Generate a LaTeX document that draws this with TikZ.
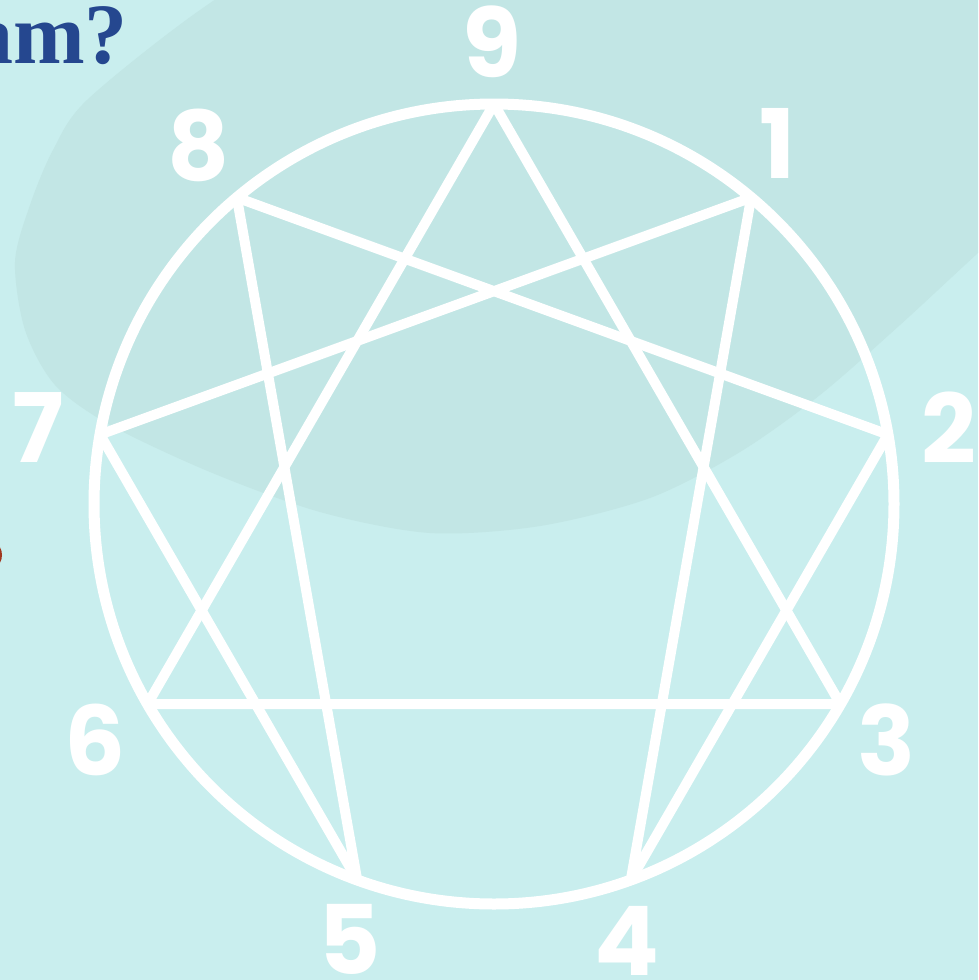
\documentclass[tikz,border=0pt]{standalone}
\usepackage{fontspec}
\newfontfamily\numfont{Poppins}
\newfontfamily\headfont{Liberation Serif}
\definecolor{bgcyan}{HTML}{C9EEEE}
\definecolor{blobcyan}{HTML}{C2E6E5}
\definecolor{titleblue}{HTML}{25478F}
\definecolor{cutred}{HTML}{A0371F}

\begin{document}
\begin{tikzpicture}[
    x=1pt, y=-1pt,
    ring/.style={draw=white, line width=11pt},
    edge/.style={draw=white, line width=10pt, line join=miter},
    num/.style={
        text=white,
        inner sep=0pt,
        font=\numfont\bfseries\fontsize{96}{96}\selectfont
    },
    head/.style={
        text=titleblue,
        inner sep=0pt,
        font=\headfont\bfseries\fontsize{86}{86}\selectfont
    }
]

\useasboundingbox (0,0) rectangle (978,980);
\clip (0,0) rectangle (978,980);

% background and the soft blob behind the figure
\fill[bgcyan] (0,0) rectangle (978,980);
\fill[blobcyan] plot[smooth cycle, tension=0.5] coordinates {
    (15,262) (30,205) (53,150) (87,100) (200,10) (330,-70) (520,-140)
    (730,-160) (930,-120) (1080,-40) (1140,60) (1070,170) (978,253)
    (900,325) (820,395) (740,452) (650,498) (540,526) (430,533)
    (320,512) (210,472) (110,425) (55,385) (25,330)};

% cut-off heading and marker on the left edge
\node[head, anchor=base east] (title) at (128,63) {am?};
\fill[cutred] (-5,555) ellipse [x radius=7pt, y radius=11pt];

% ring and its nine points
\coordinate (c) at (494,504);
\coordinate (v9) at ([shift={(-90:400)}]c);
\coordinate (v1) at ([shift={(-50:400)}]c);
\coordinate (v2) at ([shift={(-10:400)}]c);
\coordinate (v3) at ([shift={(30:400)}]c);
\coordinate (v4) at ([shift={(70:400)}]c);
\coordinate (v5) at ([shift={(110:400)}]c);
\coordinate (v6) at ([shift={(150:400)}]c);
\coordinate (v7) at ([shift={(190:400)}]c);
\coordinate (v8) at ([shift={(230:400)}]c);

\begin{scope}
    \clip (c) circle [radius=400pt];
    \draw[edge] (v9) -- (v3) -- (v6) -- cycle;
    \draw[edge] (v1) -- (v4) -- (v2) -- (v8) -- (v5) -- (v7) -- cycle;
\end{scope}
\draw[ring] (c) circle [radius=400pt];

% numbers
\node[num] (n9) at (492,42) {9};
\node[num] (n1) at (778,143) {1};
\node[num] (n2) at (949,428) {2};
\node[num] (n3) at (887,740) {3};
\node[num] (n4) at (627,941) {4};
\node[num] (n5) at (350,939) {5};
\node[num] (n6) at (95,740) {6};
\node[num] (n7) at (38,428) {7};
\node[num] (n8) at (199,145) {8};

\end{tikzpicture}
\end{document}
